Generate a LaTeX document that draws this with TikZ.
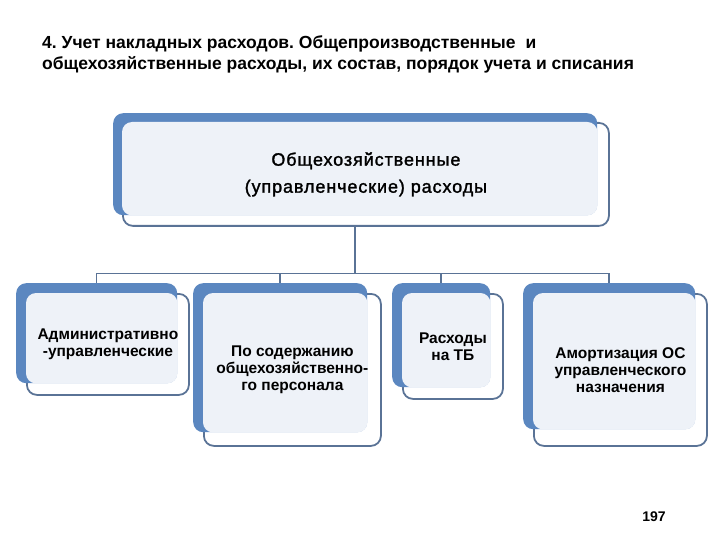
\documentclass[tikz,border=0pt]{standalone}
\usepackage{fontspec}
\setmainfont{Liberation Sans}
\newfontfamily\cardhead[FakeBold=1.5,LetterSpace=5]{Liberation Sans}
\usepackage{tikz}
\usetikzlibrary{positioning,calc,backgrounds}

\definecolor{cardblue}{HTML}{5B87C0}
\definecolor{cardline}{HTML}{5A7396}
\definecolor{cardfill}{HTML}{EEF2F8}

\tikzset{
  backcard/.style={fill=cardblue, rounded corners=10pt, inner sep=0pt, anchor=north west},
  frontcard/.style={draw=cardline, line width=1.8pt, fill=white, rounded corners=10pt, inner sep=0pt, anchor=north west},
  cardtext/.style={align=center, font=\bfseries\fontsize{15.5}{17}\selectfont},
  link/.style={draw=cardline, line width=1.5pt}
}

\begin{document}
\frenchspacing
\begin{tikzpicture}[x=1pt, y=-1pt]
\useasboundingbox (0,0) rectangle (720,540);
% heading
\node[anchor=north west, align=left, inner sep=0pt, font=\bfseries\fontsize{17.5}{21}\selectfont] (head) at (42,35)
  {4. Учет накладных расходов. Общепроизводственные\hspace{10pt}и\\общехозяйственные расходы, их состав, порядок учета и списания};
% top card
\node[frontcard, minimum width=486pt, minimum height=103pt] (topf) at (122,122) {};
\node[backcard, minimum width=484pt, minimum height=102pt] (topb) at (113,113) {};
\fill[cardfill, rounded corners=10pt] (topf.north west) rectangle (topb.south east);
\node[align=center, font=\cardhead\fontsize{18}{27}\selectfont] (topt) at (topf.center) {Общехозяйственные\\(управленческие) расходы};
% first card
\node[frontcard, minimum width=162pt, minimum height=101pt] (adminf) at (26,293) {};
\node[backcard, minimum width=161pt, minimum height=100pt] (adminb) at (16,283) {};
\fill[cardfill, rounded corners=10pt] (adminf.north west) rectangle (adminb.south east);
\node[cardtext] (admint) at (adminf.center) {Административно\\-управленческие};
% second card
\node[frontcard, minimum width=177pt, minimum height=152pt] (stafff) at (203,293) {};
\node[backcard, minimum width=174pt, minimum height=149pt] (staffb) at (193,283) {};
\fill[cardfill, rounded corners=10pt] (stafff.north west) rectangle (staffb.south east);
\node[cardtext] (stafft) at (stafff.center) {По содержанию\\общехозяйственно-\\го персонала};
% third card
\node[frontcard, minimum width=100pt, minimum height=105pt] (safef) at (402,293) {};
\node[backcard, minimum width=98pt, minimum height=104pt] (safeb) at (392,283) {};
\fill[cardfill, rounded corners=10pt] (safef.north west) rectangle (safeb.south east);
\node[cardtext] (safet) at (safef.center) {Расходы\\на ТБ};
% fourth card
\node[frontcard, minimum width=173pt, minimum height=152pt] (deprf) at (533,293) {};
\node[backcard, minimum width=172pt, minimum height=146pt] (deprb) at (523,283) {};
\fill[cardfill, rounded corners=10pt] (deprf.north west) rectangle (deprb.south east);
\node[cardtext] (deprt) at (deprf.center) {Амортизация ОС\\управленческого\\назначения};
% page number
\node[font=\bfseries\fontsize{14}{16}\selectfont] (page) at (654,517) {197};
% links
\begin{pgfonlayer}{background}
\draw[link] (topb.south) -- ++(0,58) coordinate (hub);
\draw[link] (hub) -| (adminb.north);
\draw[link] (hub) -| (staffb.north);
\draw[link] (hub) -| (safeb.north);
\draw[link] (hub) -| (deprb.north);
\end{pgfonlayer}
\end{tikzpicture}
\end{document}
